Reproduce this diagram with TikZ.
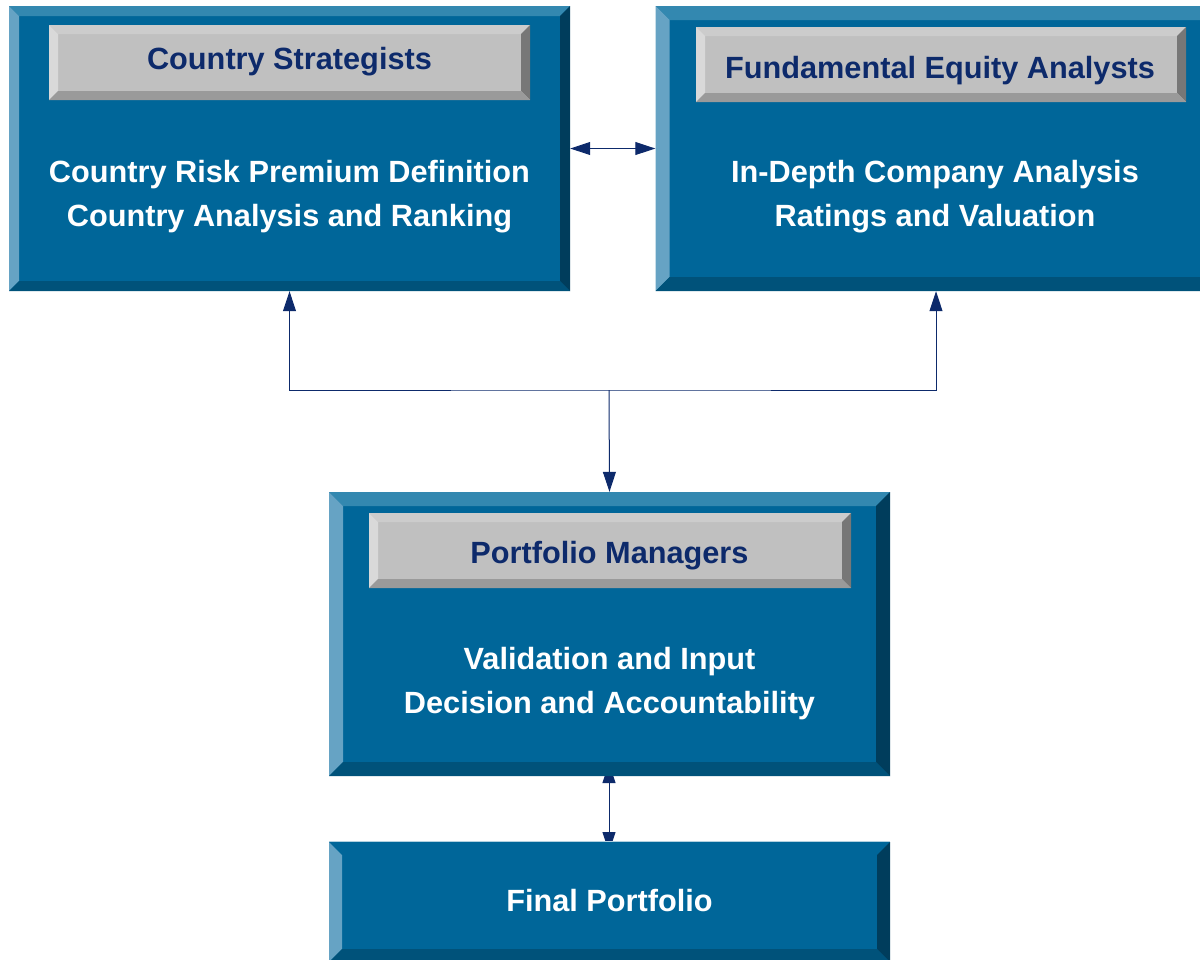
\documentclass[tikz,border=0pt]{standalone}
\usepackage{fontspec}
\usepackage{tikz}
\usetikzlibrary{arrows.meta, positioning}
\setmainfont{Liberation Sans}

\definecolor{boxblue}{HTML}{006699}
\definecolor{bevtop}{HTML}{3388B0}
\definecolor{bevleft}{HTML}{66A3C4}
\definecolor{bevright}{HTML}{003D5C}
\definecolor{bevbottom}{HTML}{00527A}
\definecolor{labgray}{HTML}{C0C0C0}
\definecolor{labtop}{HTML}{CCCCCC}
\definecolor{lableft}{HTML}{D9D9D9}
\definecolor{labright}{HTML}{777777}
\definecolor{labbottom}{HTML}{9A9A9A}
\definecolor{navy}{HTML}{0D2A6B}

% bevel frame: size, top, left, right, bottom
\newcommand{\bevelframe}[5]{%
  \path (path picture bounding box.north west) coordinate (bnw)
        (path picture bounding box.south east) coordinate (bse);
  \fill[#2] (bnw) -- (bnw -| bse) -- ++(-#1,-#1) -- ([shift={(#1,-#1)}]bnw) -- cycle;
  \fill[#3] (bnw) -- (bse -| bnw) -- ++(#1,#1) -- ([shift={(#1,-#1)}]bnw) -- cycle;
  \fill[#4] (bnw -| bse) -- (bse) -- ++(-#1,#1) -- ([shift={(-#1,-#1)}]bnw -| bse) -- cycle;
  \fill[#5] (bse -| bnw) -- (bse) -- ++(-#1,#1) -- ([shift={(#1,#1)}]bse -| bnw) -- cycle;
}

\tikzset{
  bluebox/.style={rectangle, inner sep=0pt, fill=boxblue, minimum width=561pt,
    path picture={\bevelframe{#1}{bevtop}{bevleft}{bevright}{bevbottom}}},
  flatbox/.style={rectangle, inner sep=0pt, fill=boxblue, minimum width=561pt,
    path picture={\bevelframe{#1}{boxblue}{bevleft}{bevright}{bevbottom}}},
  graylabel/.style={rectangle, inner sep=0pt, fill=labgray, minimum height=75pt,
    path picture={\bevelframe{9}{labtop}{lableft}{labright}{labbottom}}},
  headtext/.style={text=navy, font=\fontsize{30.7}{36}\selectfont\bfseries},
  bodytext/.style={align=center, text=white, font=\fontsize{30.7}{44}\selectfont\bfseries},
  link/.style={draw=navy, line width=1pt},
  tip/.tip={Triangle[length=20pt, width=13pt]}
}

\begin{document}
\begin{tikzpicture}[x=1pt, y=1pt]
\useasboundingbox (0,0) rectangle (1200,-959);
\clip (0,0) rectangle (1200,-959);

% arrow between the two lower boxes (tips hidden under them)
\coordinate (pmfoot) at (609,-763);
\coordinate (fphead) at (609,-852);
\draw[link, {tip}-{tip}, navy] (pmfoot) -- (fphead);

% boxes
\node[bluebox=10, minimum height=285pt] (cs) at (289.5,-148.5) {};
\node[bluebox=14, minimum height=285pt] (fa) at (936,-148.5) {};
\node[bluebox=14, minimum height=284pt] (pm) at (609.5,-634) {};
\node[flatbox=13, minimum height=120pt] (fp) at (609.5,-902) {};
\draw[white!70!boxblue, line width=0.8pt] (fp.north west) -- (fp.north east);

% labels
\node[graylabel, minimum width=481pt] (cslab) at (289.5,-62.5) {};
\node[graylabel, minimum width=490pt] (falab) at (941,-64.5) {};
\node[graylabel, minimum width=482pt] (pmlab) at (610,-550.5) {};
\node[headtext] (cshead) at (289.5,-61.5) {Country Strategists};
\node[headtext] (fahead) at (940,-71) {Fundamental Equity Analysts};
\node[headtext] (pmhead) at (609.5,-556) {Portfolio Managers};

\node[bodytext] (cstxt) at (289.5,-197) {Country Risk Premium Definition\\Country Analysis and Ranking};
\node[bodytext] (fatxt) at (935,-197) {In-Depth Company Analysis\\Ratings and Valuation};
\node[bodytext] (pmtxt) at (609.5,-683.5) {Validation and Input\\Decision and Accountability};
\node[bodytext] (fptxt) at (609.5,-901) {Final Portfolio};

% connectors
\coordinate (hub) at (609,-390);
\draw[link, {tip}-{tip}, navy] (cs.east) -- (fa.west);
\draw[link, {tip}-{tip}, navy] (cs.south) |- (hub) -| (fa.south);
\draw[link, -{tip}, navy] (hub) -- (pm.north);
\end{tikzpicture}
\end{document}
